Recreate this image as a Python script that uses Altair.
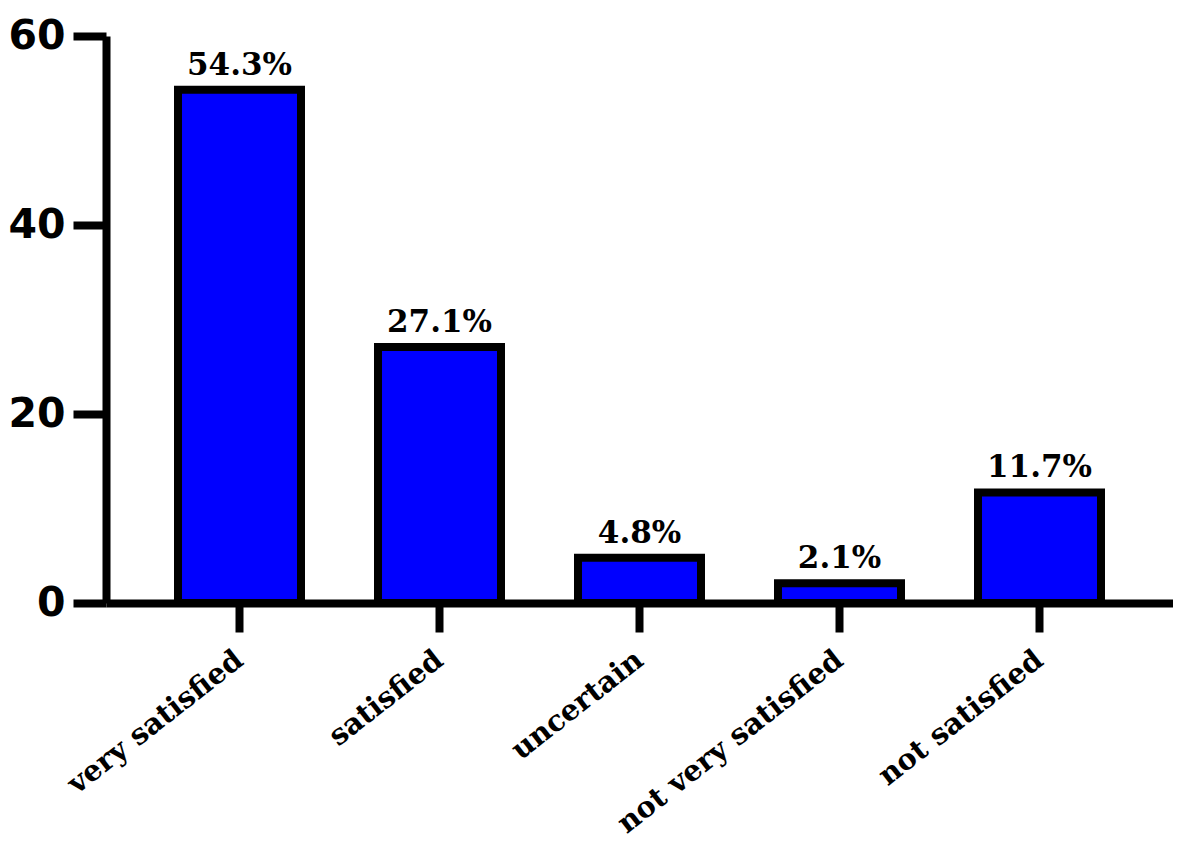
import altair as alt
import pandas as pd

categories = ["very satisfied", "satisfied", "uncertain", "not very satisfied", "not satisfied"]
values = [54.3, 27.1, 4.8, 2.1, 11.7]
labels = ["54.3%", "27.1%", "4.8%", "2.1%", "11.7%"]
y_ticks = [0, 20, 40, 60]

df = pd.DataFrame({"category": categories, "value": values, "label": labels})

x = alt.X(
    "category:N",
    sort=categories,
    title=None,
    scale=alt.Scale(paddingInner=0.385, paddingOuter=0.36),
    axis=alt.Axis(
        labelAngle=-38,
        labelAlign="right",
        labelBaseline="middle",
        labelFont="DejaVu Serif",
        labelFontWeight="bold",
        labelFontSize=29,
        labelColor="black",
        labelPadding=24,
        labelLimit=1000,
        domainColor="black",
        domainWidth=8,
        tickColor="black",
        tickWidth=8,
        tickSize=29,
        grid=False,
    ),
)
y = alt.Y(
    "value:Q",
    title=None,
    scale=alt.Scale(domain=[0, 60], nice=False),
    axis=alt.Axis(
        values=y_ticks,
        labelFont="DejaVu Sans",
        labelFontWeight="bold",
        labelFontSize=41,
        labelColor="black",
        labelPadding=8,
        domainColor="black",
        domainWidth=8,
        tickColor="black",
        tickWidth=8,
        tickSize=33,
        grid=False,
    ),
)

bars = alt.Chart(df).mark_bar(
    color="#0000FF", stroke="black", strokeWidth=8
).encode(x=x, y=y)

text = alt.Chart(df).mark_text(
    font="DejaVu Serif",
    fontWeight="bold",
    fontSize=31,
    color="black",
    baseline="bottom",
    dy=-8,
).encode(x=alt.X("category:N", sort=categories), y="value:Q", text="label:N")

chart = (
    alt.layer(bars, text)
    .properties(
        width=1067,
        height=567,
        autosize=alt.AutoSizeParams(type="none"),
        padding={"left": 98, "top": 28, "right": 0, "bottom": 240},
    )
    .configure(background="white")
    .configure_view(stroke=None)
)

chart.save("out.html", embed_options={"renderer": "svg", "actions": False})
